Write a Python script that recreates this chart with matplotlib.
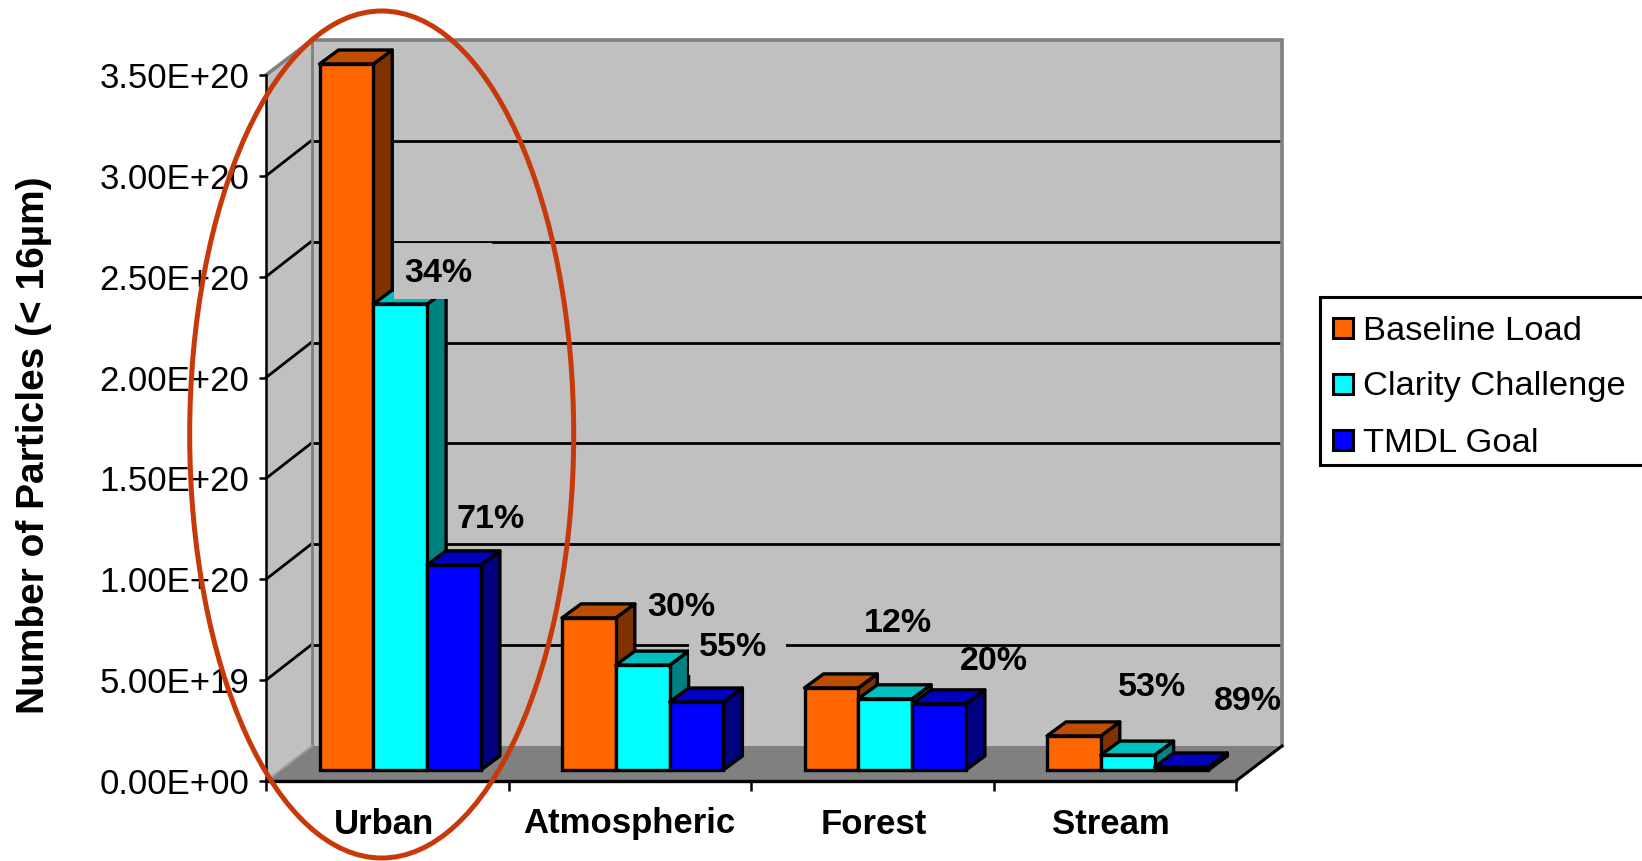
import numpy as np
import matplotlib
matplotlib.use("Agg")
import matplotlib.pyplot as plt
from matplotlib.patches import Polygon, Rectangle, Ellipse
from matplotlib.transforms import Affine2D

categories = ["Urban", "Atmospheric", "Forest", "Stream"]
series_names = ["Baseline Load", "Clarity Challenge", "TMDL Goal"]
baseline = [3.50e20, 0.754e20, 0.407e20, 0.169e20]
clarity = [2.31e20, 0.52e20, 0.353e20, 0.074e20]
tmdl = [1.017e20, 0.337e20, 0.328e20, 0.015e20]
y_ticks = [0, 0.5e20, 1.0e20, 1.5e20, 2.0e20, 2.5e20, 3.0e20, 3.5e20]
y_labels = ["0.00E+00", "5.00E+19", "1.00E+20", "1.50E+20", "2.00E+20", "2.50E+20", "3.00E+20", "3.50E+20"]
pct_labels = ["34%", "71%", "30%", "55%", "12%", "20%", "53%", "89%"]

W, H = 1642, 861
front_c = ["#FF6600", "#00FFFF", "#0000FF"]
top_c = ["#BF4D00", "#00BFBF", "#0000BF"]
side_c = ["#803300", "#008080", "#000080"]
wall = "#C0C0C0"
floor_c = "#808080"

plt.rcParams['font.family'] = ['Liberation Sans', 'DejaVu Sans']

fig = plt.figure(figsize=(W / 100, H / 100), dpi=100)
# pixel layout of the front plane
X0, X1, Y0, Y1 = 266, 1236, 781, 75
ax = fig.add_axes([X0 / W, 1 - Y0 / H, (X1 - X0) / W, (Y0 - Y1) / H])
ax.set_xlim(0, 4)
ax.set_ylim(0, 3.5e20)
ax.patch.set_visible(False)

# image pixels, y going down (walls, labels, legend)
pix = Affine2D().scale(1, -1).translate(0, H)
px_x = (X1 - X0) / 4.0
px_y = (Y0 - Y1) / 3.5e20

DX, DY = 46, 35       # depth of the chart box
BX, BY = 14.5, 11     # where the bars stand
SX, SY = 19, 14       # depth of a bar
bar_w = 53.8 / px_x
pad = 39 / px_x


def add_px(points, **kw):
    ax.add_patch(Polygon(points, closed=True, transform=pix, clip_on=False, **kw))


# walls and floor
add_px([(X0, Y0), (X0 + DX, Y0 - DY), (X0 + DX, Y1 - DY), (X0, Y1)], facecolor=wall, edgecolor="none", zorder=1)
add_px([(X0 + DX, Y1 - DY), (X1 + DX, Y1 - DY), (X1 + DX, Y0 - DY), (X0 + DX, Y0 - DY)], facecolor=wall, edgecolor="none", zorder=1)
add_px([(X0, Y0), (X1, Y0), (X1 + DX, Y0 - DY), (X0 + DX, Y0 - DY)], facecolor=floor_c, edgecolor="none", zorder=1.2)
ax.plot([X0, X0 + DX, X1 + DX, X1 + DX], [Y1, Y1 - DY, Y1 - DY, Y0 - DY], color="#808080", lw=2.6,
        transform=pix, clip_on=False, zorder=1.5, solid_joinstyle="miter")
ax.plot([X0 + DX, X0 + DX], [Y1 - DY, Y0 - DY], color="#808080", lw=2, transform=pix, clip_on=False, zorder=1.5)
ax.plot([X0, X0 + DX], [Y0, Y0 - DY], color="#A0A0A0", lw=1.5, transform=pix, clip_on=False, zorder=1.5)
ax.plot([X1, X1 + DX], [Y0, Y0 - DY], color="black", lw=2.2, transform=pix, clip_on=False, zorder=1.6)

# gridlines on the left wall and the back wall
for v in y_ticks[1:-1]:
    yp = Y0 - v * px_y
    ax.plot([X0, X0 + DX - 1], [yp, yp - DY], color="black", lw=2, transform=pix, clip_on=False, zorder=1.4)
    ax.plot([X0 + DX, X1 + DX - 2], [yp - DY, yp - DY], color="black", lw=2, transform=pix, clip_on=False, zorder=1.4)

# bars
for i in range(len(categories)):
    for j, vals in enumerate([baseline, clarity, tmdl]):
        left = i + (BX / px_x) + pad + j * bar_w
        base = BY / px_y
        val = vals[i]
        x_a, x_b = left, left + bar_w
        y_a, y_b = base, base + val
        sx, sy = SX / px_x, SY / px_y
        z = 3 + i + j * 0.1
        ax.add_patch(Polygon([(x_b, y_a), (x_b + sx, y_a + sy), (x_b + sx, y_b + sy), (x_b, y_b)],
                             facecolor=side_c[j], edgecolor="black", lw=2.4, zorder=z, clip_on=False, joinstyle="round"))
        ax.add_patch(Polygon([(x_a, y_b), (x_a + sx, y_b + sy), (x_b + sx, y_b + sy), (x_b, y_b)],
                             facecolor=top_c[j], edgecolor="black", lw=2.4, zorder=z, clip_on=False, joinstyle="round"))
        ax.bar(left, val, bar_w, bottom=base, align="edge", color=front_c[j], edgecolor="black", lw=2.4,
               zorder=z + 0.01, clip_on=False)

# axes
for s in ["top", "right"]:
    ax.spines[s].set_visible(False)
ax.spines["left"].set_linewidth(1.8)
ax.spines["bottom"].set_linewidth(2.4)
ax.spines["left"].set_zorder(2)
ax.spines["bottom"].set_zorder(2)
ax.set_yticks(y_ticks)
ax.set_yticklabels(y_labels, fontsize=25)
ax.tick_params(axis="y", length=5, width=1.8, pad=7)
ax.set_xticks(range(5))
ax.set_xticklabels([])
ax.tick_params(axis="x", length=7, width=1.8)

cat_x = [384, 629, 874, 1111]
for name, xp in zip(categories, cat_x):
    ax.text(xp, 824, name, transform=pix, ha="center", va="center", fontsize=25, fontweight="bold", zorder=8)

ax.text(34, 445, "Number of Particles (< 16\u00b5m)", transform=pix, rotation=90, ha="center", va="center",
        fontsize=28, fontweight="bold")

# label background boxes hide the gridlines
ax.add_patch(Rectangle((394, 243), 98, 56, transform=pix, facecolor=wall, edgecolor="none", zorder=9, clip_on=False))
ax.add_patch(Rectangle((689, 615), 97, 60, transform=pix, facecolor=wall, edgecolor="none", zorder=9, clip_on=False))

pct_x = [438, 491, 681, 733, 898, 994, 1152, 1248]
pct_y = [273, 520, 608, 648, 623, 662, 688, 702]
for t, xp, yp in zip(pct_labels, pct_x, pct_y):
    ax.text(xp, yp, t, transform=pix, ha="center", va="center", fontsize=24.5, fontweight="bold", zorder=10)

# legend, runs off the right edge like the picture
ax.add_patch(Rectangle((1320, 297), 340, 168, transform=pix, facecolor="white", edgecolor="black", lw=2.2,
                       zorder=5, clip_on=False))
leg_y = [328, 384, 440]
for name, c, yp in zip(series_names, front_c, leg_y):
    ax.add_patch(Rectangle((1333, yp - 10), 20, 20, transform=pix, facecolor=c, edgecolor="black", lw=2.2,
                           zorder=6, clip_on=False))
    ax.text(1363, yp + 3, name, transform=pix, ha="left", va="center", fontsize=24.8, zorder=6)

# red ring round the urban group
ax.add_patch(Ellipse((381.7, 434.5), 384, 847, transform=pix, facecolor="none", edgecolor="#C8390A", lw=3.6,
                     zorder=12, clip_on=False))

fig.savefig("out.png", dpi=100)
